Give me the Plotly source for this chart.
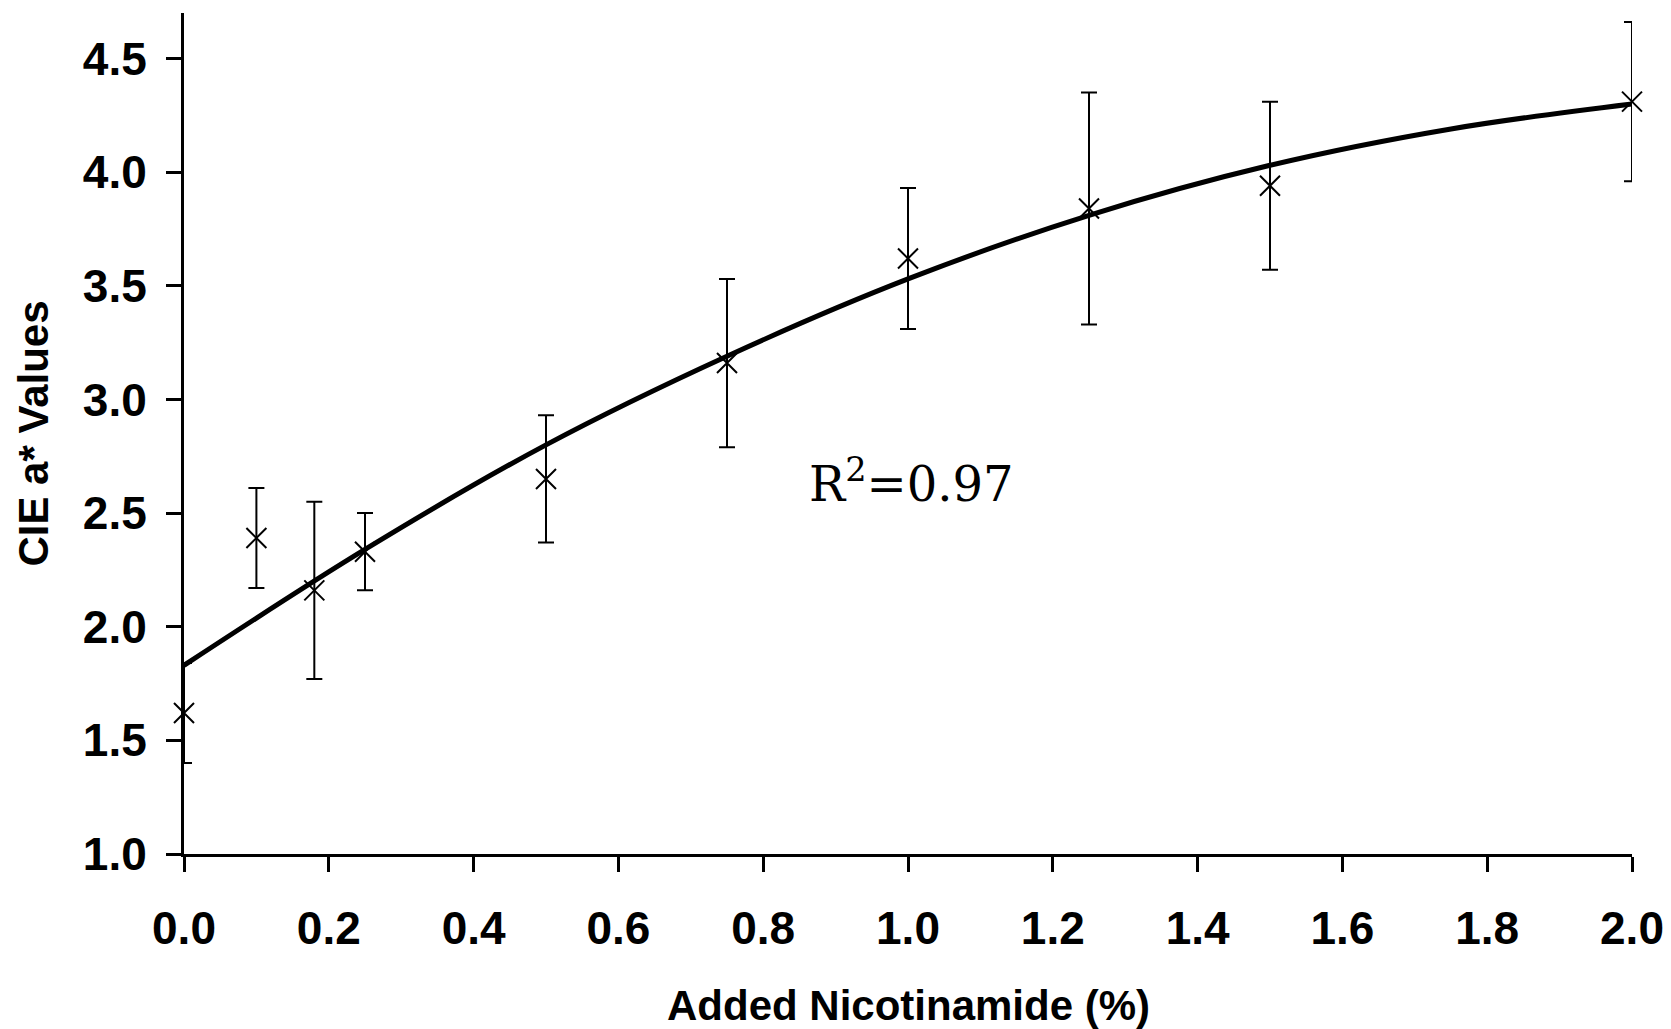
import plotly.graph_objects as go

# Measured data (Added Nicotinamide %, CIE a* value, error)
nicotinamide = [0.0, 0.1, 0.18, 0.25, 0.5, 0.75, 1.0, 1.25, 1.5, 2.0]
a_star = [1.62, 2.39, 2.16, 2.33, 2.65, 3.16, 3.62, 3.84, 3.94, 4.31]
a_star_err = [0.22, 0.22, 0.39, 0.17, 0.28, 0.37, 0.31, 0.51, 0.37, 0.35]

# Trend line
fit_x = [0.0, 0.25, 0.5, 0.75, 1.0, 1.25, 1.5, 1.75, 2.0]
fit_y = [1.83, 2.34, 2.80, 3.19, 3.53, 3.81, 4.03, 4.19, 4.30]

x_ticks = [0.0, 0.2, 0.4, 0.6, 0.8, 1.0, 1.2, 1.4, 1.6, 1.8, 2.0]
y_ticks = [1.0, 1.5, 2.0, 2.5, 3.0, 3.5, 4.0, 4.5]

sans = "Liberation Sans, Arial, sans-serif"

fig = go.Figure()
fig.add_trace(go.Scatter(
    x=fit_x, y=fit_y, mode="lines",
    line=dict(color="black", width=5, shape="spline"),
    cliponaxis=False, showlegend=False, hoverinfo="skip"))
fig.add_trace(go.Scatter(
    x=nicotinamide, y=a_star, mode="markers",
    marker=dict(symbol="x-thin", size=20, line=dict(color="black", width=2)),
    error_y=dict(type="data", array=a_star_err, visible=True,
                 color="black", thickness=2, width=8),
    cliponaxis=False, showlegend=False))

fig.add_annotation(
    x=0.86, y=2.64, xref="x", yref="y",
    text="R<sup>2</sup>=0.97", showarrow=False,
    xanchor="left", yanchor="middle",
    font=dict(family="DejaVu Serif, serif", size=48, color="black"))

# x-axis title placed as an annotation for exact positioning
fig.add_annotation(
    x=0.5, y=-0.180, xref="paper", yref="paper",
    text="Added Nicotinamide (%)", showarrow=False,
    xanchor="center", yanchor="middle",
    font=dict(family=sans, size=42, color="black", weight="bold"))

fig.update_xaxes(
    range=[0, 2.0], tickvals=x_ticks, tickformat=".1f",
    showline=True, linecolor="black", linewidth=3,
    ticks="outside", ticklen=15, tickwidth=2.5, tickcolor="black",
    ticklabelstandoff=17, automargin=False,
    showgrid=False, zeroline=False,
    tickfont=dict(family=sans, size=46, color="black", weight="bold"))
fig.update_yaxes(
    range=[1.0, 4.7], tickvals=y_ticks, tickformat=".1f",
    showline=True, linecolor="black", linewidth=3,
    ticks="outside", ticklen=15, tickwidth=2.5, tickcolor="black",
    ticklabelstandoff=10, automargin=False,
    showgrid=False, zeroline=False,
    tickfont=dict(family=sans, size=46, color="black", weight="bold"),
    title=dict(text="CIE a* Values", standoff=22,
               font=dict(family=sans, size=42, color="black", weight="bold")))

fig.update_layout(
    width=1671, height=1029,
    margin=dict(l=184, r=39, t=13, b=175),
    plot_bgcolor="white", paper_bgcolor="white")

fig.write_html("out.html")
